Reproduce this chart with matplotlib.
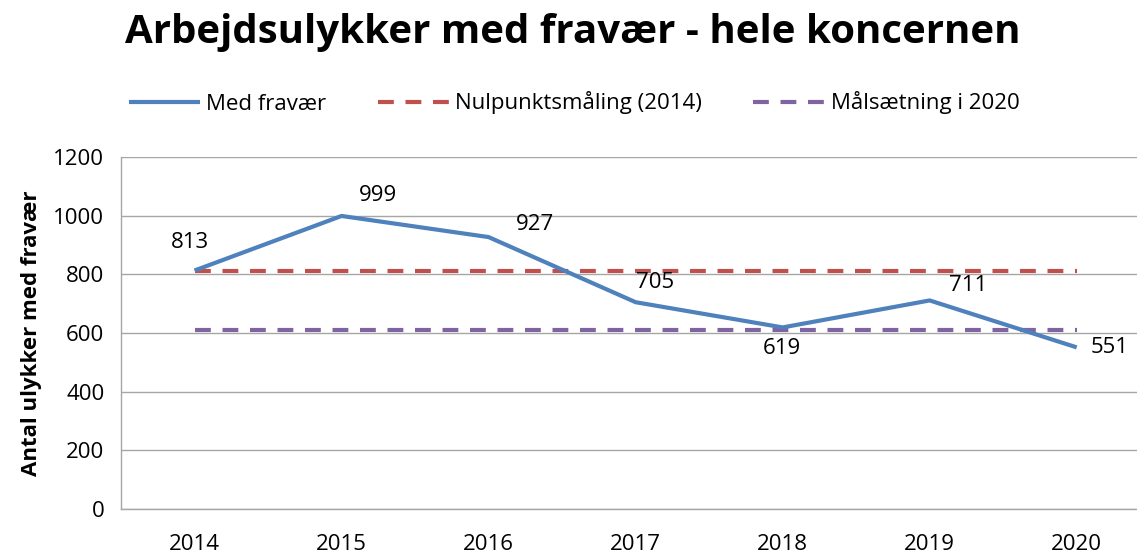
import matplotlib
matplotlib.use("Agg")
import matplotlib.pyplot as plt
import numpy as np

years = ["2014", "2015", "2016", "2017", "2018", "2019", "2020"]
med_fravaer = [813, 999, 927, 705, 619, 711, 551]
nulpunkt = [813] * 7
maalsaetning = [610] * 7
label_offsets = [(-5, 28), (36, 20), (46, 13), (19, 20), (-1, -21), (38, 15), (33, 0)]

plt.rcParams['font.family'] = ['Open Sans', 'DejaVu Sans']

fig = plt.figure(figsize=(11.37, 5.53), dpi=100)
ax = fig.add_axes([121/1137, 1 - 509/553, 1 - 121/1137, (509 - 157)/553])

x = np.arange(len(years))
blue = '#4F81BD'
red = '#C0504D'
purple = '#8064A2'

l1, = ax.plot(x, med_fravaer, color=blue, lw=3.0, solid_capstyle='butt', label='Med fravær', zorder=4)
l2, = ax.plot(x, nulpunkt, color=red, lw=3.0, dashes=(3.8, 2.8), dash_capstyle='butt', label='Nulpunktsmåling (2014)', zorder=3)
l3, = ax.plot(x, maalsaetning, color=purple, lw=3.0, dashes=(3.8, 2.8), dash_capstyle='butt', label='Målsætning i 2020', zorder=3)

for xi, v, (dx, dy) in zip(x, med_fravaer, label_offsets):
    ax.annotate(str(v), (xi, v), xytext=(dx, dy), textcoords='offset pixels',
                ha='center', va='center', fontsize=16, color='#000000', zorder=5,
                annotation_clip=False)

ax.set_xlim(-0.5, 6.41)
ax.set_ylim(0, 1200)
ax.set_yticks(range(0, 1201, 200))
ax.set_xticks(x)
ax.set_xticklabels(years)
ax.grid(axis='y', color='#A6A6A6', lw=1.0)
ax.set_axisbelow(True)
for s in ['top', 'right']:
    ax.spines[s].set_visible(False)
for s in ['left', 'bottom']:
    ax.spines[s].set_color('#A6A6A6')
    ax.spines[s].set_linewidth(1.0)
ax.tick_params(length=0, labelsize=16)
ax.tick_params(axis='x', pad=18)
ax.tick_params(axis='y', pad=12)
ax.set_ylabel('Antal ulykker med fravær', fontsize=16, fontweight='bold', labelpad=8)

fig.text(0.504, 1 - 33/553, 'Arbejdsulykker med fravær - hele koncernen', ha='center', va='center',
         fontsize=29, fontweight='bold')

fig.legend(handles=[l1, l2, l3], loc='center', bbox_to_anchor=(0.505, 1 - 103/553), ncol=3,
           frameon=False, fontsize=16, handlelength=3.2, columnspacing=2.3, handletextpad=0.3)

fig.savefig('out.png', dpi=100)
